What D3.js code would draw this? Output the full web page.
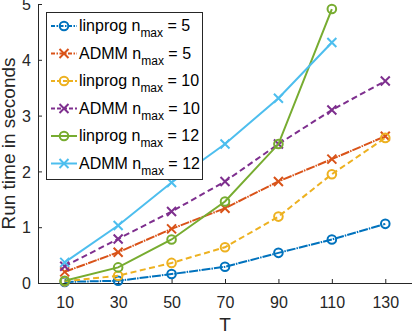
<!DOCTYPE html>
<html>
<head>
<meta charset="utf-8">
<script src="https://cdn.jsdelivr.net/npm/d3@7"></script>
<style>
  body { margin: 0; background: #fff; }
  svg { font-family: "Liberation Sans", Arial, sans-serif; }
</style>
</head>
<body>
<div id="chart"></div>
<script>
var tValues = [10, 30, 50, 70, 90, 110, 130];
var xTicks = [10, 30, 50, 70, 90, 110, 130];
var yTicks = [0, 1, 2, 3, 4, 5];

var linprog5  = [0.02, 0.04, 0.16, 0.29, 0.54, 0.78, 1.06];
var admm5     = [0.20, 0.55, 0.97, 1.34, 1.82, 2.22, 2.63];
var linprog10 = [0.03, 0.13, 0.36, 0.64, 1.19, 1.95, 2.60];
var admm10    = [0.30, 0.79, 1.28, 1.82, 2.49, 3.10, 3.62];
var linprog12 = [0.04, 0.28, 0.78, 1.46, 2.49, 4.91];
var admm12    = [0.37, 1.03, 1.80, 2.49, 3.31, 4.31];

var seriesNames = ['linprog', 'ADMM', 'linprog', 'ADMM', 'linprog', 'ADMM'];
var seriesN = ['5', '5', '10', '10', '12', '12'];

var width = 412, height = 334;
var margin = {top: 4, right: 0, bottom: 51, left: 38};

// dash: line in plot, legDash: short sample in legend box
var series = [
    {name: seriesNames[0], n: seriesN[0], values: linprog5,  color: '#0072BD', dash: '9,1,1.5,1', legDash: '4,1.5,1.5,1.5', marker: 'o'},
    {name: seriesNames[1], n: seriesN[1], values: admm5,     color: '#D95319', dash: '9,1,1.5,1', legDash: '4,1.5,1.5,1.5', marker: 'x'},
    {name: seriesNames[2], n: seriesN[2], values: linprog10, color: '#EDB120', dash: '6,3.5',     legDash: '4,2',           marker: 'o'},
    {name: seriesNames[3], n: seriesN[3], values: admm10,    color: '#7E2F8E', dash: '6,3.5',     legDash: '4,2',           marker: 'x'},
    {name: seriesNames[4], n: seriesN[4], values: linprog12, color: '#77AC30', dash: null,        legDash: null,            marker: 'o'},
    {name: seriesNames[5], n: seriesN[5], values: admm12,    color: '#4DBEEE', dash: null,        legDash: null,            marker: 'x'}
];

var svg = d3.select('#chart').append('svg')
            .attr('width', width)
            .attr('height', height);

var x = d3.scaleLinear().domain([0, 140]).range([margin.left, width - margin.right]);
var y = d3.scaleLinear().domain([0, 5]).range([height - margin.bottom, margin.top]);

// axes, ticks pointing inward like matlab
var xAxis = d3.axisBottom(x).tickValues(xTicks).tickFormat(d3.format('d'))
              .tickSizeInner(-4).tickSizeOuter(0).tickPadding(10);
var yAxis = d3.axisLeft(y).tickValues(yTicks).tickFormat(d3.format('d'))
              .tickSizeInner(-4).tickSizeOuter(0).tickPadding(7);

var gx = svg.append('g')
            .attr('transform', 'translate(0,' + y(0) + ')')
            .call(xAxis);
var gy = svg.append('g')
            .attr('transform', 'translate(' + margin.left + ',0)')
            .call(yAxis);

[gx, gy].forEach(function(g) {
    g.select('.domain').attr('stroke', '#262626').attr('stroke-width', 1);
    g.selectAll('.tick line').attr('stroke', '#262626');
    g.selectAll('.tick text').attr('fill', '#262626').attr('font-size', 16)
     .attr('font-family', '"Liberation Sans", Arial, sans-serif');
});
gx.selectAll('.tick text').attr('dy', '0.95em');
gy.selectAll('.tick text').attr('dy', '0.36em');

svg.append('text')
   .attr('x', x(70)).attr('y', 331)
   .attr('text-anchor', 'middle')
   .attr('font-size', 19).attr('fill', '#262626')
   .text('T');

svg.append('text')
   .attr('transform', 'translate(15,' + y(2.5) + ') rotate(-90)')
   .attr('text-anchor', 'middle')
   .attr('font-size', 19).attr('fill', '#262626')
   .text('Run time in seconds');

var line = d3.line()
             .x(function(d, i) { return x(tValues[i]); })
             .y(function(d) { return y(d); });

var drawMarker = function(g, type, cx, cy, color) {
    if (type === 'o') {
        g.append('circle').attr('cx', cx).attr('cy', cy).attr('r', 4.3)
         .attr('fill', 'none').attr('stroke', color).attr('stroke-width', 2);
    } else {
        var s = 4.5;
        g.append('path')
         .attr('d', 'M' + (cx - s) + ',' + (cy - s) + 'L' + (cx + s) + ',' + (cy + s) +
                    'M' + (cx - s) + ',' + (cy + s) + 'L' + (cx + s) + ',' + (cy - s))
         .attr('stroke', color).attr('stroke-width', 2).attr('fill', 'none');
    }
};

series.forEach(function(s) {
    var g = svg.append('g');
    g.append('path')
     .datum(s.values)
     .attr('d', line)
     .attr('fill', 'none')
     .attr('stroke', s.color)
     .attr('stroke-width', 2)
     .attr('stroke-dasharray', s.dash);
    s.values.forEach(function(v, i) {
        drawMarker(g, s.marker, x(tValues[i]), y(v), s.color);
    });
});

// legend
var legend = svg.append('g');
legend.append('rect')
      .attr('x', 46.5).attr('y', 12.5)
      .attr('width', 156).attr('height', 167)
      .attr('fill', '#fff').attr('stroke', '#262626').attr('stroke-width', 1);

series.forEach(function(s, i) {
    var cy = 26 + i * 27.5;
    legend.append('line')
          .attr('x1', 51).attr('x2', 77).attr('y1', cy).attr('y2', cy)
          .attr('stroke', s.color).attr('stroke-width', 2)
          .attr('stroke-dasharray', s.legDash);
    drawMarker(legend, s.marker, 64, cy, s.color);
    var t = legend.append('text')
                  .attr('x', 79).attr('y', cy + 5)
                  .attr('font-size', 16).attr('fill', '#000');
    t.append('tspan').text(s.name + ' n');
    t.append('tspan').attr('font-size', 12).attr('dy', 6).text('max');
    t.append('tspan').attr('dy', -6).text(' = ' + s.n);
});
</script>
</body>
</html>
